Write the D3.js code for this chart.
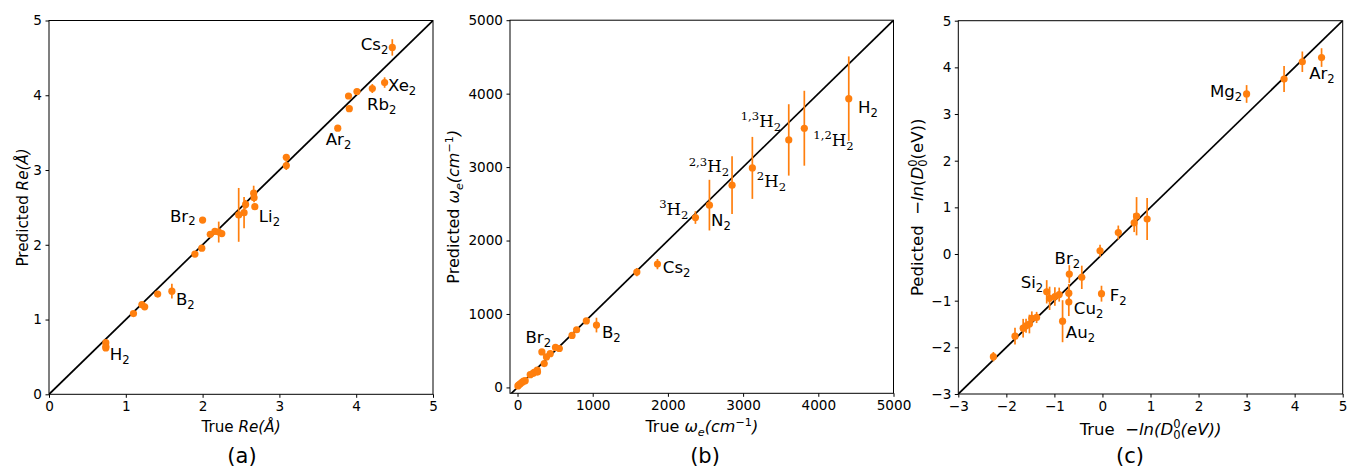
<!DOCTYPE html>
<html>
<head>
<meta charset="utf-8">
<script src="https://cdn.jsdelivr.net/npm/d3@7"></script>
<style>
  html, body { margin: 0; padding: 0; background: #fff; }
  svg { display: block; font-family: "DejaVu Sans", sans-serif; }
</style>
</head>
<body>
<svg id="chart" width="1348" height="470"></svg>
<script>
// ---- (a) equilibrium bond length Re (Å) ----
const reTrue = [4.47, 4.37, 4.21, 4.01, 3.90, 3.91, 3.76, 3.09, 3.09, 2.665, 2.67, 2.68, 2.56, 2.54, 2.47,
                2.00, 2.10, 2.16, 2.21, 2.25, 1.99, 1.90, 1.60, 1.415, 1.21, 1.246, 1.10, 0.74, 0.74, 0.74];
const rePred = [4.64, 4.17, 4.09, 4.05, 3.99, 3.82, 3.56, 3.17, 3.06, 2.69, 2.63, 2.51, 2.54, 2.43, 2.40,
                2.33, 2.14, 2.18, 2.17, 2.15, 1.955, 1.876, 1.38, 1.34, 1.20, 1.17, 1.08, 0.69, 0.64, 0.62];
const reErr  = [0.11, 0.07, 0.06, 0.03, 0.03, 0.04, 0.03, 0.03, 0.06, 0.10, 0.06, 0.04, 0.06, 0.21, 0.36,
                0.02, 0.03, 0.03, 0.14, 0.04, 0.03, 0.03, 0.10, 0.03, 0.03, 0.03, 0.03, 0.03, 0.03, 0.02];
const reNames = ["Cs", "Xe", "Rb", "", "", "", "Ar", "", "", "", "", "Li", "", "", "",
                 "Br", "", "", "", "", "", "", "B", "", "", "", "", "", "H", ""];

// ---- (b) harmonic frequency ωe (cm⁻¹) ----
const weTrue = [4405, 3814, 3607, 3123, 2853, 2552, 2366, 1861, 1587, 1050, 915, 786, 725, 556, 505,
                324, 435, 385, 355, 262, 222, 205, 169, 266, 102, 80, 58, 36, 18, 5];
const wePred = [3932, 3529, 3370, 2989, 2754, 2482, 2313, 1679, 1570, 849, 905, 785, 708, 530, 544,
                484, 460, 415, 325, 236, 206, 190, 173, 209, 92, 85, 68, 50, 35, 20];
const weErr  = [575, 510, 486, 422, 394, 345, 86, 70, 55, 100, 40, 30, 30, 25, 20,
                15, 25, 20, 30, 35, 30, 20, 20, 25, 15, 10, 10, 10, 10, 10];
const weNames = ["H", "1,2", "1,3", "2", "2,3", "N", "3", "Cs", "", "B", "", "", "", "", "",
                 "Br", "", "", "", "", "", "", "", "", "", "", "", "", "", ""];

// ---- (c) dissociation energy −ln(D0) ----
const dTrue = [4.56, 4.16, 3.78, 3.00, 0.93, 0.71, 0.66, 0.33, -0.05, -0.69, -0.43, -0.02, -0.70, -0.70, -0.83,
               -1.16, -1.10, -0.99, -0.90, -1.37, -1.47, -1.52, -1.59, -1.65, -1.82, -2.27];
const dPred = [4.21, 4.12, 3.75, 3.43, 0.75, 0.81, 0.67, 0.46, 0.07, -0.43, -0.50, -0.85, -0.84, -1.03, -1.44,
               -0.81, -0.95, -0.91, -0.87, -1.36, -1.38, -1.50, -1.54, -1.59, -1.76, -2.20];
const dErr  = [0.20, 0.22, 0.28, 0.19, 0.45, 0.41, 0.20, 0.15, 0.13, 0.19, 0.25, 0.17, 0.20, 0.30, 0.45,
               0.25, 0.25, 0.20, 0.15, 0.12, 0.15, 0.20, 0.15, 0.20, 0.18, 0.10];
const dNames = ["Ar", "", "", "Mg", "", "", "", "", "", "Br", "", "F", "", "Cu", "Au",
                "Si", "", "", "", "", "", "", "", "", "", ""];

// tick values
const reTicks = [0, 1, 2, 3, 4, 5];
const weTicks = [0, 1000, 2000, 3000, 4000, 5000];
const dTicks = [-3, -2, -1, 0, 1, 2, 3, 4, 5];

// ---- drawing ----
const ORANGE = "#ff7f0e";
const TICK_FS = 13.6, ANNOT_FS = 16.6, CAP_FS = 21;
const svg = d3.select("#chart");
svg.append("rect").attr("width", 1348).attr("height", 470).attr("fill", "#fff");

const fmtTick = d => (d < 0 ? "\u2212" + Math.abs(d) : String(d));

// mathtext-like run of tspans: {t, i (italic), pos ('sub'|'sup'), f (family), back (em pull-back)}
function rich(text, parts, size) {
  let shift = 0;
  parts.forEach(p => {
    const ts = text.append("tspan").text(p.t);
    const target = p.pos === "sub" ? size * 0.24 : p.pos === "sup" ? -size * 0.40 : 0;
    if (target - shift !== 0) ts.attr("dy", target - shift);
    shift = target;
    if (p.pos) ts.attr("font-size", size * 0.7);
    if (p.i) ts.attr("font-style", "italic");
    if (p.f) ts.attr("font-family", p.f);
    if (p.back) ts.attr("dx", -p.back * size);
  });
  return text;
}

function panel(cfg) {
  const x = d3.scaleLinear().domain(cfg.xDomain).range([cfg.left, cfg.right]);
  const y = d3.scaleLinear().domain(cfg.yDomain).range([cfg.bottom, cfg.top]);
  const g = svg.append("g");

  const clipId = "clip-" + cfg.id;
  svg.append("clipPath").attr("id", clipId).append("rect")
    .attr("x", cfg.left).attr("y", cfg.top)
    .attr("width", cfg.right - cfg.left).attr("height", cfg.bottom - cfg.top);

  // axes
  const xa = g.append("g").attr("transform", `translate(0,${cfg.bottom})`)
    .call(d3.axisBottom(x).tickValues(cfg.ticks).tickFormat(fmtTick).tickSize(3.5).tickPadding(3.5).tickSizeOuter(0));
  const ya = g.append("g").attr("transform", `translate(${cfg.left},0)`)
    .call(d3.axisLeft(y).tickValues(cfg.ticks).tickFormat(fmtTick).tickSize(3.5).tickPadding(3.5).tickSizeOuter(0));
  [xa, ya].forEach(a => {
    a.select(".domain").remove();
    a.selectAll(".tick line").attr("stroke", "#000").attr("stroke-width", 1);
    a.selectAll(".tick text").attr("fill", "#000").attr("font-size", TICK_FS)
      .attr("font-family", "DejaVu Sans");
  });

  // identity line y = x
  const lo = Math.min(cfg.xDomain[0], cfg.yDomain[0]);
  const hi = Math.max(cfg.xDomain[1], cfg.yDomain[1]);
  g.append("line").attr("clip-path", `url(#${clipId})`)
    .attr("x1", x(lo)).attr("y1", y(lo)).attr("x2", x(hi)).attr("y2", y(hi))
    .attr("stroke", "#000").attr("stroke-width", 1.7);

  const pts = cfg.xs.map((v, i) => ({ x: v, y: cfg.ys[i], e: cfg.errs[i], name: cfg.names[i], i }));

  // error bars
  g.append("g").selectAll("line").data(pts).join("line")
    .attr("x1", d => x(d.x)).attr("x2", d => x(d.x))
    .attr("y1", d => y(d.y - d.e)).attr("y2", d => y(d.y + d.e))
    .attr("stroke", ORANGE).attr("stroke-width", 1.7);

  // markers
  g.append("g").selectAll("circle").data(pts).join("circle")
    .attr("cx", d => x(d.x)).attr("cy", d => y(d.y)).attr("r", 3.6)
    .attr("fill", ORANGE);

  // spines
  g.append("rect").attr("x", cfg.left).attr("y", cfg.top)
    .attr("width", cfg.right - cfg.left).attr("height", cfg.bottom - cfg.top)
    .attr("fill", "none").attr("stroke", "#000").attr("stroke-width", 1);

  // point annotations
  pts.filter(d => d.name).forEach(d => {
    const o = cfg.labelOffsets[d.name];
    const t = g.append("text")
      .attr("x", x(d.x) + o[0]).attr("y", y(d.y) + o[1])
      .attr("text-anchor", o[2] || "start")
      .attr("font-size", ANNOT_FS).attr("fill", "#000");
    rich(t, cfg.labelParts(d.name), ANNOT_FS);
  });

  // axis titles
  const fs = cfg.labelFs;
  const xl = g.append("text").attr("x", (cfg.left + cfg.right) / 2).attr("y", cfg.bottom + cfg.xLabelGap)
    .attr("text-anchor", "middle").attr("font-size", fs).attr("fill", "#000")
    .attr("xml:space", "preserve");
  rich(xl, cfg.xLabel, fs);
  const yl = g.append("text")
    .attr("transform", `translate(${cfg.left - cfg.yLabelGap},${(cfg.top + cfg.bottom) / 2}) rotate(-90)`)
    .attr("text-anchor", "middle").attr("font-size", fs).attr("fill", "#000")
    .attr("xml:space", "preserve");
  rich(yl, cfg.yLabel, fs);

  // panel caption
  g.append("text").attr("x", cfg.captionX).attr("y", 463)
    .attr("text-anchor", "middle").attr("font-size", CAP_FS).attr("fill", "#000")
    .text(cfg.caption);
}

const plainSub = name => [{ t: name }, { t: "2", pos: "sub" }];
const SERIF = "DejaVu Serif";

panel({
  id: "a", left: 49, right: 433, top: 20.5, bottom: 394.3,
  xDomain: [0, 5], yDomain: [0, 5], ticks: reTicks,
  xs: reTrue, ys: rePred, errs: reErr, names: reNames,
  labelParts: plainSub,
  labelOffsets: {
    Cs: [-4, 3, "end"], Xe: [3.4, 8], Rb: [-5.4, 21], Ar: [-12, 16.6],
    Li: [4, 15], Br: [-7, 1.4, "end"], B: [4, 14], H: [4, 14]
  },
  labelFs: 15.2, xLabelGap: 38, yLabelGap: 21,
  xLabel: [{ t: "True " }, { t: "Re(\u00C5)", i: true }],
  yLabel: [{ t: "Predicted " }, { t: "Re(\u00C5)", i: true }],
  caption: "(a)", captionX: 242
});

panel({
  id: "b", left: 510, right: 893.5, top: 20.2, bottom: 393.3,
  xDomain: [-100, 5000], yDomain: [-80, 5000], ticks: weTicks,
  xs: weTrue, ys: wePred, errs: weErr, names: weNames,
  labelParts: name => {
    if (/^[0-9]/.test(name)) {
      return [{ t: name, pos: "sup", f: SERIF }, { t: "H", f: SERIF }, { t: "2", pos: "sub", f: SERIF }];
    }
    return plainSub(name);
  },
  labelOffsets: {
    "H": [9.3, 14.6], "1,2": [9, 17.4], "1,3": [-7.7, -13.3, "end"], "2": [4.4, 18.7],
    "2,3": [-3, -13, "end"], "N": [1.7, 20.7], "3": [-7, -2.7, "end"], "Cs": [5.4, 9],
    "B": [5.4, 13], "Br": [-16.4, -9.3]
  },
  labelFs: 16, xLabelGap: 39, yLabelGap: 51,
  xLabel: [{ t: "True " }, { t: "\u03C9", i: true }, { t: "e", i: true, pos: "sub" },
           { t: "(cm", i: true }, { t: "\u22121", pos: "sup" }, { t: ")", i: true }],
  yLabel: [{ t: "Predicted " }, { t: "\u03C9", i: true }, { t: "e", i: true, pos: "sub" },
           { t: "(cm", i: true }, { t: "\u22121", pos: "sup" }, { t: ")", i: true }],
  caption: "(b)", captionX: 705
});

panel({
  id: "c", left: 958.3, right: 1342.7, top: 20.7, bottom: 394,
  xDomain: [-3, 5], yDomain: [-3, 5], ticks: dTicks,
  xs: dTrue, ys: dPred, errs: dErr, names: dNames,
  labelParts: plainSub,
  labelOffsets: {
    Mg: [-36.7, 3], Ar: [-12.4, 21], Br: [-14.7, -10.3], Si: [-26, -3.4],
    Cu: [5, 12.3], Au: [3.3, 16.6], F: [8.3, 7]
  },
  labelFs: 16.5, xLabelGap: 41, yLabelGap: 35,
  xLabel: [{ t: "True  \u2212" }, { t: "ln(D", i: true }, { t: "0", pos: "sup" },
           { t: "0", pos: "sub", back: 0.445 }, { t: "(eV))", i: true }],
  yLabel: [{ t: "Pedicted  \u2212" }, { t: "ln", i: true }, { t: "(" }, { t: "D", i: true },
           { t: "0", pos: "sup" }, { t: "0", pos: "sub", back: 0.445 }, { t: "(eV))" }],
  caption: "(c)", captionX: 1130
});
</script>
</body>
</html>
